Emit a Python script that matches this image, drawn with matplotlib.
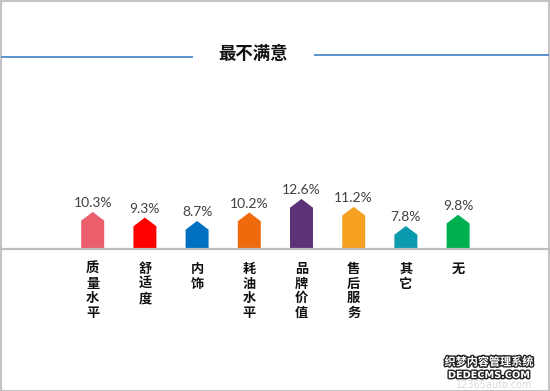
import matplotlib
matplotlib.use('Agg')
import matplotlib.pyplot as plt
from matplotlib.patches import Polygon, Rectangle
from matplotlib.lines import Line2D
import matplotlib.patheffects as pe

plt.rcParams['font.family'] = ['Noto Sans CJK SC', 'DejaVu Sans']

# data
title = '最不满意'
categories = ['质量水平', '舒适度', '内饰', '耗油水平', '品牌价值', '售后服务', '其它', '无']
values = [10.3, 9.3, 8.7, 10.2, 12.6, 11.2, 7.8, 9.8]
colors = ['#EB5F6D', '#FF0000', '#0070C0', '#EE6A0C', '#5E3279', '#F5A01F', '#0B9AAE', '#00B050']

W, H = 550, 391
# pixel layout of the original picture
x_first, x_step = 92.7, 52.2     # bar centres
px_per_pct, y_zero = 5.64, 270   # vertical scale
y_base_px = 249                  # grey baseline
bar_w = 0.44
tip = 1.55                       # height of the roof triangle, in %

fig = plt.figure(figsize=(W / 100, H / 100), dpi=100)
ax = fig.add_axes([0, 0, 1, 1])
ax.set_xlim(-x_first / x_step, (W - x_first) / x_step)
ax.set_ylim((y_zero - H) / px_per_pct, y_zero / px_per_pct)
ax.axis('off')

def fx(px):
    return px / W

def fy(py):
    return 1 - py / H

# frame round the picture
fig.patches.append(Rectangle((0.001, 0.001), 0.997, 0.996, transform=fig.transFigure,
                             fill=False, edgecolor='#C4C4C4', linewidth=1.5))

# title with the two blue rules
fig.text(fx(253), fy(54), title, ha='center', va='center', fontsize=12.5,
         fontweight='bold', color='#111111')
fig.add_artist(Line2D([fx(2), fx(192)], [fy(56.5), fy(56.5)], color='#5B93CC', lw=1.4))
fig.add_artist(Line2D([fx(315), fx(548)], [fy(55), fy(55)], color='#5B93CC', lw=1.4))

# baseline
v_base = (y_zero - y_base_px) / px_per_pct
fig.add_artist(Line2D([fx(1), fx(549)], [fy(y_base_px), fy(y_base_px)], color='#BDBDBD', lw=1.6))

for i, (cat, v, c) in enumerate(zip(categories, values, colors)):
    l, r = i - bar_w / 2, i + bar_w / 2
    pts = [(l, v_base), (l, v - tip), (i, v), (r, v - tip), (r, v_base)]
    ax.add_patch(Polygon(pts, closed=True, facecolor=c, edgecolor='none', zorder=2))
    ax.annotate('%.1f%%' % v, xy=(i, v), xytext=(0, 2), textcoords='offset points',
                ha='center', va='bottom', fontsize=10, color='#404040', family='Lato')
    ax.annotate('\n'.join(cat), xy=(i, v_base), xytext=(0, -9.5), textcoords='offset points',
                ha='center', va='top', fontsize=9.5, fontweight='bold', color='#111111',
                linespacing=1.05)

# watermark
fig.text(fx(494), fy(385), '12365auto.com', ha='center', va='center', fontsize=7,
         color='#D8D8D8', family='DejaVu Sans', zorder=0)
fig.text(fx(489), fy(362), '织梦内容管理系统', ha='center', va='center', fontsize=8,
         fontweight='bold', color='white',
         path_effects=[pe.withStroke(linewidth=2, foreground='#222222')])
fig.text(fx(489), fy(375), 'DEDECMS.COM', ha='center', va='center', fontsize=7,
         fontweight='bold', color='white', family='DejaVu Sans',
         path_effects=[pe.withStroke(linewidth=2, foreground='#222222')])

fig.savefig('out.png', dpi=100, facecolor='white')
